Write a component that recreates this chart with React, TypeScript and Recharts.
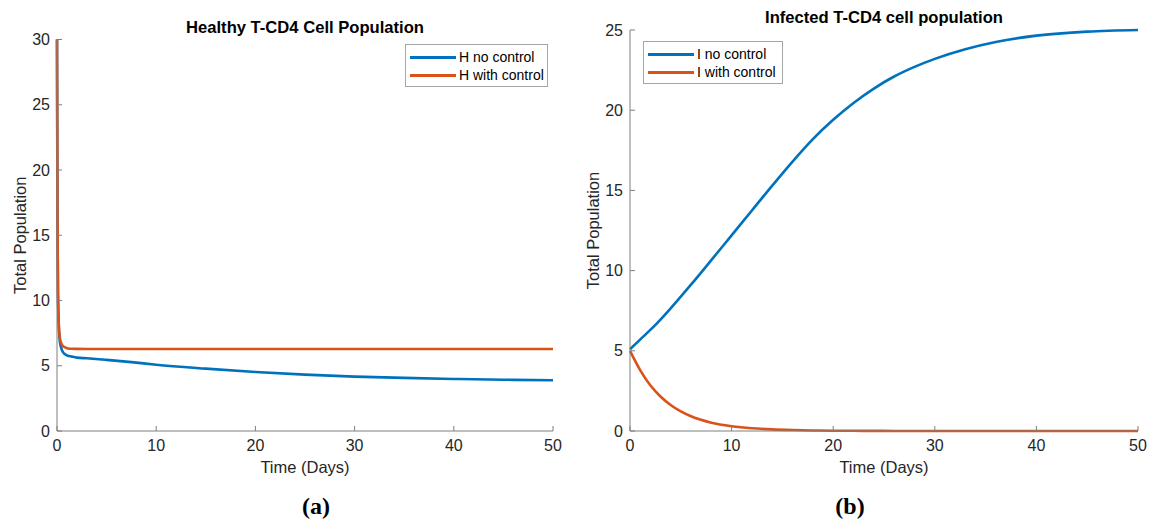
import React from 'react'
import { LineChart, Line, XAxis, YAxis, Legend } from 'recharts'

// healthy cells (panel a)
const hTime = [0, 0.05, 0.1, 0.2, 0.3, 0.5, 0.7, 1, 1.5, 2, 3, 5, 7.5, 10, 15, 20, 25, 30, 35, 40, 45, 50]
const hNoControl = [30, 16, 10.4, 7.7, 6.8, 6.2, 5.95, 5.8, 5.7, 5.62, 5.57, 5.45, 5.28, 5.08, 4.78, 4.52, 4.32, 4.17, 4.07, 3.99, 3.93, 3.89]
const hWithControl = [30, 16, 10.5, 7.9, 7.1, 6.6, 6.45, 6.35, 6.3, 6.29, 6.28, 6.28, 6.28, 6.28, 6.28, 6.28, 6.28, 6.28, 6.28, 6.28, 6.28, 6.28]

// infected cells (panel b)
const iTime = [0, 1, 2, 3, 4, 5, 6, 8, 10, 12, 14, 16, 18, 20, 22, 24, 26, 28, 30, 33, 36, 40, 45, 50]
const iNoControl = [5.1, 5.7, 6.3, 6.95, 7.65, 8.38, 9.12, 10.65, 12.2, 13.75, 15.3, 16.8, 18.2, 19.4, 20.45, 21.35, 22.1, 22.7, 23.2, 23.8, 24.25, 24.65, 24.9, 25.0]
const iWithControl = [5.0, 3.8, 2.85, 2.15, 1.62, 1.22, 0.92, 0.52, 0.3, 0.17, 0.1, 0.06, 0.035, 0.02, 0.012, 0.007, 0.004, 0.002, 0.001, 0, 0, 0, 0, 0]

const xTicks = [0, 10, 20, 30, 40, 50]
const hTicks = [0, 5, 10, 15, 20, 25, 30]
const iTicks = [0, 5, 10, 15, 20, 25]

const BLUE = '#0072BD'
const ORANGE = '#D95319'
const AXIS = '#7f7f7f'
const TEXT = '#262626'
const FONT = '"Liberation Sans", Arial, sans-serif'

const hData = hTime.map((t, i) => ({ t, a: hNoControl[i], b: hWithControl[i] }))
const iData = iTime.map((t, i) => ({ t, a: iNoControl[i], b: iWithControl[i] }))

const BoxLegend = ({ payload, width }: any) => (
  <div style={{ width, boxSizing: 'border-box', border: '1px solid #a6a6a6', background: '#fff', padding: '3px 4px 2px 4px', fontFamily: FONT, fontSize: 14, lineHeight: '18px', color: '#000', whiteSpace: 'nowrap' }}>
    {(payload || []).map((p: any) => (
      <div key={p.value} style={{ display: 'flex', alignItems: 'center', height: 18, whiteSpace: 'nowrap' }}>
        <span style={{ display: 'inline-block', flexShrink: 0, width: 46, height: 3, background: p.color, marginRight: 3 }} />
        <span style={{ flexShrink: 0 }}>{p.value}</span>
      </div>
    ))}
  </div>
)

interface PanelProps {
  data: { t: number; a: number; b: number }[]
  yMax: number
  yTicks: number[]
  names: [string, string]
  margin: { top: number; right: number; bottom: number; left: number }
  legendPos: { left: number; top: number; width: number }
}

function Panel({ data, yMax, yTicks, names, margin, legendPos }: PanelProps) {
  return (
    <LineChart width={575} height={524} data={data} margin={margin} style={{ fontFamily: FONT }}>
      <XAxis
        dataKey="t"
        type="number"
        domain={[0, 50]}
        ticks={xTicks}
        height={30}
        stroke={AXIS}
        tickSize={-5}
        tickMargin={14}
        tick={{ fill: TEXT, fontSize: 16 }}
        label={{ value: 'Time (Days)', position: 'bottom', offset: 0, fill: TEXT, fontSize: 16.5 }}
      />
      <XAxis xAxisId="top" orientation="top" type="number" domain={[0, 50]} ticks={xTicks} height={0} stroke={AXIS} tickSize={-5} tick={false} />
      <YAxis
        type="number"
        domain={[0, yMax]}
        ticks={yTicks}
        width={40}
        stroke={AXIS}
        tickSize={-5}
        tickMargin={12}
        tick={{ fill: TEXT, fontSize: 16 }}
        label={{ value: 'Total Population', angle: -90, position: 'insideLeft', offset: 3, fill: TEXT, fontSize: 16.5, style: { textAnchor: 'middle' } }}
      />
      <YAxis yAxisId="right" orientation="right" type="number" domain={[0, yMax]} ticks={yTicks} width={0} stroke={AXIS} tickSize={-5} tick={false} />
      <Legend
        layout="vertical"
        align="center"
        verticalAlign="middle"
        width={legendPos.width}
        wrapperStyle={{ left: legendPos.left, top: legendPos.top, width: legendPos.width }}
        content={(p: any) => <BoxLegend payload={p.payload} width={legendPos.width} />}
      />
      <Line type="monotone" dataKey="a" name={names[0]} stroke={BLUE} strokeWidth={2.6} dot={false} isAnimationActive={false} />
      <Line type="monotone" dataKey="b" name={names[1]} stroke={ORANGE} strokeWidth={2.6} dot={false} isAnimationActive={false} />
    </LineChart>
  )
}

const titleStyle: React.CSSProperties = { position: 'absolute', transform: 'translate(-50%, -50%)', fontFamily: FONT, fontWeight: 'bold', fontSize: 16.6, color: '#000', whiteSpace: 'nowrap' }
const capStyle: React.CSSProperties = { position: 'absolute', transform: 'translate(-50%, -50%)', fontFamily: '"Liberation Serif", "Times New Roman", serif', fontWeight: 'bold', fontSize: 24, color: '#000' }

export default function App() {
  return (
    <div style={{ position: 'absolute', left: 0, top: 0, width: 1150, height: 524, background: '#fff', overflow: 'hidden' }}>
      <div style={{ position: 'absolute', left: 0, top: 0 }}>
        <Panel
          data={hData}
          yMax={30}
          yTicks={hTicks}
          names={['H no control', 'H with control']}
          margin={{ top: 39.5, right: 22, bottom: 63, left: 17 }}
          legendPos={{ left: 405, top: 44, width: 143 }}
        />
      </div>
      <div style={{ position: 'absolute', left: 575, top: 0 }}>
        <Panel
          data={iData}
          yMax={25}
          yTicks={iTicks}
          names={['I no control', 'I with control']}
          margin={{ top: 30, right: 12, bottom: 63, left: 15 }}
          legendPos={{ left: 68, top: 41, width: 140 }}
        />
      </div>
      <div style={{ ...titleStyle, left: 305, top: 28 }}>Healthy T-CD4 Cell Population</div>
      <div style={{ ...titleStyle, left: 884, top: 18 }}>Infected T-CD4 cell population</div>
      <div style={{ ...capStyle, left: 316, top: 506 }}>(a)</div>
      <div style={{ ...capStyle, left: 850, top: 506 }}>(b)</div>
    </div>
  )
}
